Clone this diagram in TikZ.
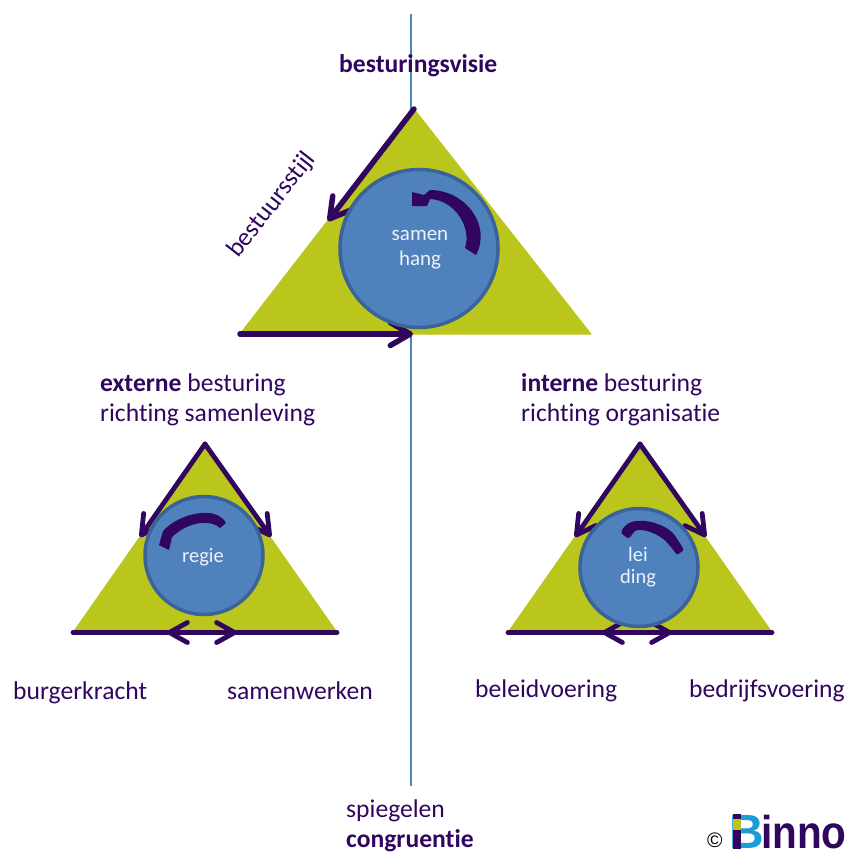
\documentclass[tikz,border=0pt]{standalone}
\usepackage{fontspec}
\setmainfont{Carlito}[Ligatures=NoCommon]
\newfontfamily\logofont{Liberation Sans}
\usetikzlibrary{arrows.meta}
\definecolor{tri}{HTML}{BBC61D}
\definecolor{pur}{HTML}{30065E}
\definecolor{disc}{HTML}{4F81BD}
\definecolor{discline}{HTML}{3A6497}
\definecolor{axis}{HTML}{4A86B8}
\definecolor{logoblue}{HTML}{1E9BD7}
\tikzset{
  triangle/.style={fill=tri,draw=tri,line width=1pt,line join=round},
  disc/.style={circle,fill=disc,draw=discline,line width=3.5pt,inner sep=0pt},
  side/.style={draw=pur,line width=5.5pt,line cap=round,line join=round,
     -{Straight Barb[length=20pt,width=23pt,line width=5.5pt,round]}},
  smallside/.style={draw=pur,line width=4.8pt,line cap=round,line join=round,
     -{Straight Barb[length=19pt,width=21pt,line width=4.8pt,round]}},
  base/.style={draw=pur,line width=4.8pt,line cap=round,
     {Straight Barb[length=18pt,width=20pt,line width=4.8pt,round]}-{Straight Barb[length=18pt,width=20pt,line width=4.8pt,round]}},
  lbl/.style={text=pur,font=\fontsize{25.6}{30}\selectfont,align=left,inner sep=0pt},
  inlbl/.style={text=white!90!disc,font=\fontsize{21}{25}\selectfont,align=center,inner sep=0pt},
}
\begin{document}
\begin{tikzpicture}[x=1pt,y=-1pt]
\useasboundingbox (0,0) rectangle (845,854);
% axis
\coordinate (axT) at (411,14);
\coordinate (axB) at (411,786);
\draw[axis,line width=2pt] (axT) -- (axB);
% top triangle
\coordinate (tA) at (414,109);
\coordinate (tL) at (240,334);
\coordinate (tR) at (591,334);
\coordinate (tS) at (328,221);
\coordinate (tE) at (413,334);
\draw[triangle] (tA) -- (tL) -- (tR) -- cycle;
\draw[side] (tA) -- (tS);
\draw[side] (tL) -- (tE);
\node[disc,minimum size=158pt] (c1) at (419,248.5) {};
\fill[pur] (465,248) .. controls (472,228) and (455,200) .. (430,199)
  -- (427,206) -- (412,206) -- (412,192) -- (424,195) -- (430,190)
  .. controls (465,190) and (492,225) .. (476,255) -- cycle;
\node[inlbl] (t1) at (420,250) {samen\\hang};
% left triangle
\coordinate (lA) at (205,444);
\coordinate (lL) at (73,632.5);
\coordinate (lR) at (337,632.5);
\coordinate (lSL) at (140,537);
\coordinate (lSR) at (271,537);
\coordinate (lbL) at (167,632.5);
\coordinate (lbR) at (237,632.5);
\draw[triangle] (lA) -- (lL) -- (lR) -- cycle;
\draw[pur,line width=4.8pt,line cap=round] (lL) -- (lR);
\draw[base] (lbL) -- (lbR);
\draw[smallside] (lA) -- (lSL);
\draw[smallside] (lA) -- (lSR);
\node[disc,minimum size=118pt] (c2) at (204,555.5) {};
\fill[pur] (159,545) -- (163,531) .. controls (175,518) and (195,512) .. (207,513)
  .. controls (215,513) and (222,516) .. (226,523) -- (220,528)
  .. controls (212,520) and (190,520) .. (172,537) -- (169,550) -- cycle;
\node[inlbl,font=\fontsize{20.5}{25}\selectfont] (t2) at (203,557) {regie};
% right triangle
\coordinate (rA) at (640,444);
\coordinate (rL) at (508,632.5);
\coordinate (rR) at (772,632.5);
\coordinate (rSL) at (575,537);
\coordinate (rSR) at (706,537);
\coordinate (rbL) at (602,632.5);
\coordinate (rbR) at (672,632.5);
\draw[triangle] (rA) -- (rL) -- (rR) -- cycle;
\draw[pur,line width=4.8pt,line cap=round] (rL) -- (rR);
\draw[base] (rbL) -- (rbR);
\draw[smallside] (rA) -- (rSL);
\draw[smallside] (rA) -- (rSR);
\node[disc,minimum size=118pt] (c3) at (639,567.5) {};
\fill[pur,rounded corners=1.5pt] (621,533) .. controls (624,524) and (632,521) .. (638,521)
  .. controls (652,520) and (669,527) .. (676,537) -- (684,550) -- (677,555) -- (671,547)
  -- (669,545) .. controls (663,537) and (650,530) .. (638,530)
  .. controls (633,531) and (631,538) .. (627,538) -- cycle;
\node[inlbl,font=\fontsize{20.5}{22}\selectfont] (t3) at (638,567) {lei\\ding};
% labels
\node[lbl,anchor=base west] (n1) at (339,72) {\textbf{besturingsvisie}};
\node[lbl,rotate=52,anchor=center] (n2) at (272,205) {bestuursstijl};
\node[lbl,anchor=north west] (n3) at (100,374) {\textbf{externe} besturing\\richting samenleving};
\node[lbl,anchor=north west] (n4) at (521,373) {\textbf{interne} besturing\\richting organisatie};
\node[lbl,anchor=base west] (n5) at (13,699) {burgerkracht};
\node[lbl,anchor=base west] (n6) at (227,699) {samenwerken};
\node[lbl,anchor=base west] (n7) at (475,697) {beleidvoering};
\node[lbl,anchor=base west] (n8) at (689,697) {bedrijfsvoering};
\node[lbl,anchor=north west] (n9) at (346,800) {spiegelen\\\textbf{congruentie}};
% logo
\node[inner sep=0pt,anchor=base west,text=black,font=\logofont\fontsize{21}{24}\selectfont] (cp) at (707,847) {©};
\node[inner sep=0pt,anchor=base west,text=logoblue,font=\logofont\bfseries\fontsize{48}{48}\selectfont] (bb) at (729,848) {B};
\fill[pur] (733,814) rectangle (741,849);
\fill[tri] (733,819) rectangle (741,830);
\node[inner sep=0pt,anchor=base west,text=pur,xscale=.88,font=\logofont\bfseries\fontsize{46}{46}\selectfont] (ii) at (761,848) {inno};
\end{tikzpicture}
\end{document}
